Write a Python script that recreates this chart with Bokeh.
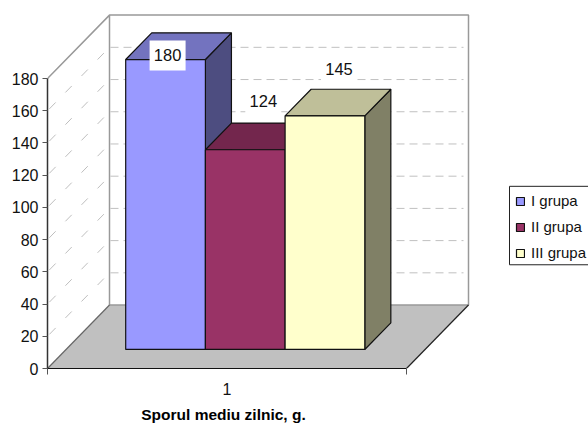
from bokeh.plotting import figure
from bokeh.embed import file_html
from bokeh.resources import INLINE
from bokeh.models import FixedTicker, Legend, LegendItem, LinearAxis
from bokeh.core.properties import value

# ---- data
groups = ["I grupa", "II grupa", "III grupa"]
values = [180, 124, 145]
labels = ["180", "124", "145"]
y_ticks = [0, 20, 40, 60, 80, 100, 120, 140, 160, 180]
grid_values = [20, 40, 60, 80, 100, 120, 140, 160]
x_category = "1"
x_title = "Sporul mediu zilnic, g."

# ---- styles
front_cols = ["#9999FF", "#993366", "#FFFFCC"]
top_cols = ["#7373BF", "#73264D", "#BFBF99"]
side_cols = ["#4D4D80", "#4D1A33", "#808066"]
FONT = "Liberation Sans"

# ---- geometry: x in screen-like units, y in value units
X0, X1 = 47, 406          # front edge of floor
Y_MAX = 223.5             # y range top
DX, DY = 62, 39.4         # full-depth projection offset
BAR_X0, BAR_W = 106.6, 79.7   # first bar world x and width
D_FRONT, D_BACK = 0.30, 0.72
TITLE_X = 223


def proj(x, v, d):
    return x + DX * d, v + DY * d


def poly(points):
    return [q[0] for q in points], [q[1] for q in points]


p = figure(width=588, height=425, x_range=(47, 588), y_range=(0, Y_MAX),
           output_backend="svg", toolbar_location=None,
           min_border_left=47, min_border_right=0, min_border_top=8, min_border_bottom=56,
           outline_line_color=None, background_fill_color="white")
p.grid.visible = False

# axes
ya = p.yaxis[0]
ya.ticker = FixedTicker(ticks=y_ticks)
ya.bounds = (0, 180)
ya.major_tick_in = 0
ya.major_tick_out = 5
ya.minor_tick_in = 0
ya.minor_tick_out = 0
ya.major_label_standoff = 4
ya.major_label_text_font = FONT
ya.major_label_text_font_size = "16px"
ya.major_label_text_color = "#111111"
ya.axis_line_color = "#333333"
ya.axis_line_width = 1.5
ya.major_tick_line_color = "#555555"

xa = p.xaxis[0]
xc = (X0 + X1) / 2
xa.ticker = FixedTicker(ticks=[xc], minor_ticks=[X0, X1])
xa.major_label_overrides = {xc: x_category}
xa.bounds = (X0, X1)
xa.major_tick_in = 0
xa.major_tick_out = 0
xa.minor_tick_in = 0
xa.minor_tick_out = 6
xa.minor_tick_line_color = "#555555"
xa.major_label_standoff = 8
xa.major_label_text_font = FONT
xa.major_label_text_font_size = "16px"
xa.major_label_text_color = "#111111"
xa.axis_line_color = "#111111"
xa.axis_line_width = 1.2

# axis title, placed off-centre as in the reference, through a second tick-free axis
title_axis = LinearAxis(ticker=FixedTicker(ticks=[TITLE_X]),
                        major_label_overrides={TITLE_X: x_title},
                        axis_line_color=None, major_tick_line_color=None, minor_tick_line_color=None,
                        major_tick_in=0, major_tick_out=0, minor_tick_in=0, minor_tick_out=0,
                        major_label_standoff=8,
                        major_label_text_font=FONT, major_label_text_font_size="15.5px",
                        major_label_text_font_style="bold", major_label_text_color="black")
p.add_layout(title_axis, "below")

# walls and floor
WALL = "#999999"
xs, ys = poly([proj(X0, 0, 0), proj(X0, 180, 0), proj(X0, 180, 1), proj(X0, 0, 1)])
p.patch(xs, ys, fill_color="white", line_color=None)
xs, ys = poly([proj(X0, 0, 1), proj(X0, 180, 1), proj(X1, 180, 1), proj(X1, 0, 1)])
p.patch(xs, ys, fill_color="white", line_color=None)
xs, ys = poly([proj(X0, 0, 0), proj(X1, 0, 0), proj(X1, 0, 1), proj(X0, 0, 1)])
p.patch(xs, ys, fill_color="#C0C0C0", line_color=None)

# gridlines
for v in grid_values:
    a, b = proj(X0, v, 1), proj(X1, v, 1)
    p.line([a[0] + 1, b[0] - 5], [a[1], b[1]], line_color="#C0C0C0", line_width=1, line_dash="8 5")
    c, d = proj(X0, v, 0.03), proj(X0, v, 0.94)
    p.line([c[0], d[0]], [c[1], d[1]], line_color="#BEBEBE", line_width=1, line_dash="9 14")

# wall edges
xs, ys = poly([proj(X0, 180, 0), proj(X0, 180, 1), proj(X1, 180, 1), proj(X1, 0, 1), proj(X0, 0, 1), proj(X0, 180, 1)])
p.line(xs, ys, line_color=WALL, line_width=1.5)
xs, ys = poly([proj(X0, 0, 0), proj(X0, 0, 1)])
p.line(xs, ys, line_color="#666666", line_width=1.2)
xs, ys = poly([proj(X1, 0, 0), proj(X1, 0, 1)])
p.line(xs, ys, line_color="#222222", line_width=1.2)

# bars (3-D boxes projected through the data scales)
BAR_LINE = "#111111"
front_renderers = []
for i, v in enumerate(values):
    x0 = BAR_X0 + i * BAR_W
    x1 = x0 + BAR_W
    xs, ys = poly([proj(x1, 0, D_FRONT), proj(x1, v, D_FRONT), proj(x1, v, D_BACK), proj(x1, 0, D_BACK)])
    p.patch(xs, ys, fill_color=side_cols[i], line_color=BAR_LINE, line_width=1.2)
    xs, ys = poly([proj(x0, v, D_FRONT), proj(x1, v, D_FRONT), proj(x1, v, D_BACK), proj(x0, v, D_BACK)])
    p.patch(xs, ys, fill_color=top_cols[i], line_color=BAR_LINE, line_width=1.2)
    fx0, fb = proj(x0, 0, D_FRONT)
    fx1, ft = proj(x1, v, D_FRONT)
    r = p.quad(left=[fx0], right=[fx1], bottom=[fb], top=[ft],
               fill_color=front_cols[i], line_color=BAR_LINE, line_width=1.2)
    front_renderers.append(r)

# data labels: offset from the top-back centre of each box
label_offsets = [(-24, -14), (-8, 14), (-12, 12.4)]
for i, v in enumerate(values):
    x0 = BAR_X0 + i * BAR_W
    cx, cy = proj(x0 + BAR_W / 2, v, D_BACK)
    lx, ly = cx + label_offsets[i][0], cy + label_offsets[i][1]
    p.rect([lx], [ly], width=36, height=30, width_units="screen", height_units="screen",
           fill_color="white", line_color=None)
    p.text([lx], [ly], text=[labels[i]], text_align="center", text_baseline="middle",
           text_font=value(FONT), text_font_size="16.5px", text_color="#111111")

# legend box, then the legend itself
p.quad(left=[509], right=[600], bottom=[64.4], top=[113.1],
       fill_color="white", line_color="#222222", line_width=1)
legend = Legend(
    items=[LegendItem(label=g, renderers=[r]) for g, r in zip(groups, front_renderers)],
    location=(468, 107), orientation="vertical",
    glyph_width=10, glyph_height=10, label_standoff=6,
    label_text_font=FONT, label_text_font_size="15px", label_text_color="#111111",
    label_height=16, spacing=9, padding=7, margin=0,
    border_line_color=None, background_fill_alpha=0,
)
p.add_layout(legend)

open("out.html", "w").write(file_html(p, INLINE))
